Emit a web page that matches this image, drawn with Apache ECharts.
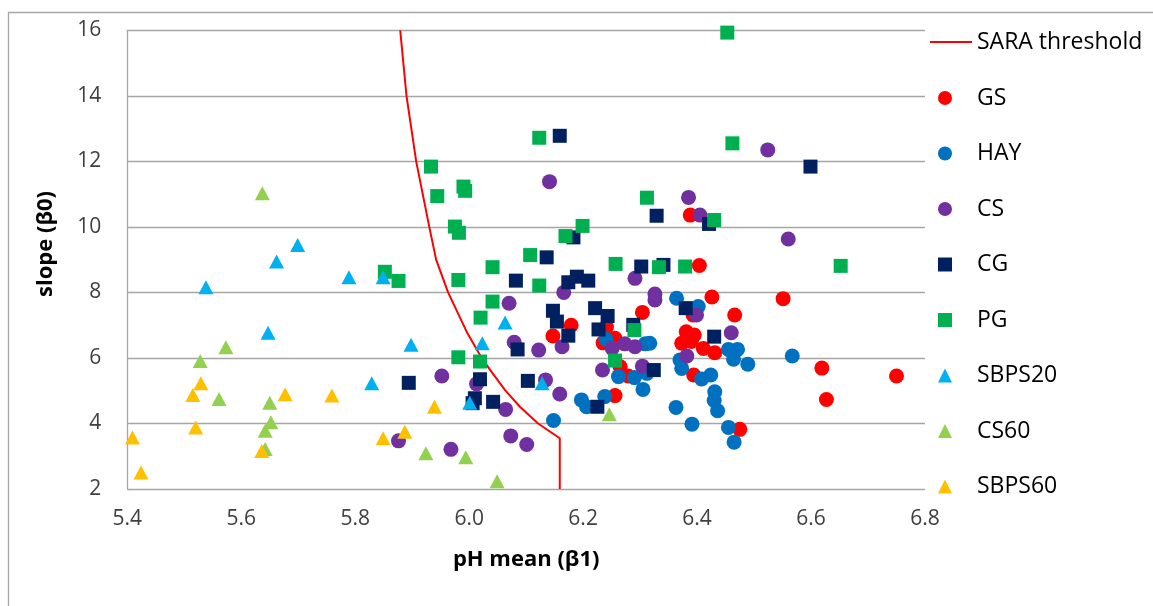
<!DOCTYPE html>
<html>
<head>
<meta charset="utf-8">
<script src="https://cdn.jsdelivr.net/npm/echarts@6/dist/echarts.min.js"></script>
<style>html,body{margin:0;padding:0;background:#fff}#c{width:1153px;height:606px}</style>
</head>
<body>
<div id="c"></div>
<script>
// ---- data ----
var saraX = [5.879, 5.890, 5.907, 5.930, 5.942, 5.963, 5.997, 6.022, 6.037, 6.063, 6.089, 6.121, 6.159, 6.159];
var saraY = [16, 14, 12, 10, 9, 8, 6.75, 6, 5.63, 5.02, 4.51, 4, 3.55, 2];

var GS = [[6.388,10.36],[6.404,8.82],[6.426,7.86],[6.551,7.81],[6.466,7.31],[6.619,5.69],[6.750,5.45],[6.627,4.73],[6.475,3.82],[6.381,6.80],[6.395,6.70],[6.373,6.45],[6.390,6.50],[6.411,6.29],[6.431,6.16],[6.393,7.31],[6.394,5.48],[6.304,7.39],[6.179,7.00],[6.147,6.67],[6.241,6.95],[6.256,6.60],[6.235,6.46],[6.265,5.73],[6.279,5.45],[6.256,4.85]];
var HAY = [[6.364,7.82],[6.402,7.57],[6.317,6.45],[6.370,5.94],[6.373,5.68],[6.455,6.26],[6.471,6.26],[6.464,5.96],[6.489,5.81],[6.567,6.06],[6.408,5.36],[6.424,5.48],[6.431,4.97],[6.430,4.70],[6.436,4.39],[6.363,4.49],[6.391,3.98],[6.455,3.88],[6.465,3.43],[6.240,6.57],[6.309,6.43],[6.262,5.43],[6.290,5.40],[6.305,5.04],[6.197,4.72],[6.206,4.51],[6.238,4.82],[6.148,4.09],[6.312,5.53]];
var CS = [[6.141,11.38],[6.524,12.35],[6.385,10.90],[6.405,10.36],[6.560,9.63],[6.326,7.95],[6.326,7.77],[6.399,7.31],[6.460,6.77],[6.382,6.06],[6.291,8.43],[6.166,8.00],[6.070,7.67],[6.079,6.48],[6.122,6.24],[6.163,6.34],[6.251,6.29],[6.273,6.43],[6.291,6.34],[6.234,5.63],[6.304,5.75],[5.952,5.45],[6.013,5.21],[6.134,5.33],[6.159,4.90],[6.064,4.43],[5.876,3.47],[6.073,3.62],[6.101,3.36],[5.968,3.21]];
var CG = [[6.159,12.78],[6.599,11.84],[6.329,10.34],[6.421,10.09],[6.183,9.68],[6.136,9.07],[6.302,8.79],[6.341,8.84],[6.082,8.36],[6.174,8.31],[6.189,8.48],[6.209,8.36],[6.147,7.44],[6.154,7.11],[6.174,6.68],[6.221,7.52],[6.243,7.28],[6.227,6.87],[6.288,7.01],[6.085,6.26],[6.019,5.35],[6.010,4.77],[6.006,4.62],[6.042,4.66],[6.103,5.30],[5.894,5.24],[6.225,4.51],[6.324,5.63],[6.380,7.52],[6.430,6.65]];
var PG = [[6.453,15.93],[6.462,12.55],[6.123,12.72],[5.933,11.84],[5.990,11.23],[5.993,11.10],[5.944,10.94],[6.312,10.89],[6.430,10.21],[5.975,10.01],[5.982,9.82],[6.169,9.72],[6.199,10.03],[6.107,9.14],[6.652,8.81],[6.333,8.77],[6.379,8.79],[6.257,8.87],[6.041,8.77],[5.852,8.63],[5.876,8.35],[5.981,8.38],[6.123,8.21],[6.041,7.72],[6.020,7.23],[6.290,6.85],[5.981,6.02],[6.019,5.89],[6.256,5.92]];
var SBPS20 = [[5.699,9.45],[5.662,8.94],[5.538,8.16],[5.789,8.46],[5.849,8.46],[5.647,6.77],[5.829,5.23],[5.898,6.40],[6.023,6.45],[6.063,7.08],[6.128,5.23],[6.001,4.63]];
var CS60 = [[5.637,11.03],[5.573,6.33],[5.528,5.91],[5.561,4.75],[5.650,4.63],[5.652,4.04],[5.642,3.78],[5.642,3.22],[5.924,3.09],[5.994,2.97],[6.049,2.24],[6.246,4.28]];
var SBPS60 = [[5.529,5.23],[5.515,4.87],[5.677,4.89],[5.759,4.85],[5.520,3.88],[5.409,3.57],[5.424,2.50],[5.636,3.16],[5.849,3.55],[5.887,3.75],[5.939,4.51]];

var xTicks = ['5.4','5.6','5.8','6.0','6.2','6.4','6.6','6.8'];
var yTicks = ['2','4','6','8','10','12','14','16'];

// ---- chart ----
var FONT = 'Open Sans';
var saraData = saraX.map(function (x, i) { return [x, saraY[i]]; });

function scatter(name, data, symbol, color, size) {
  return {
    name: name, type: 'scatter', data: data, symbol: symbol, symbolSize: size,
    itemStyle: { color: color, opacity: 1 }, emphasis: { disabled: true }, animation: false
  };
}

var chart = echarts.init(document.getElementById('c'), null, { renderer: 'canvas' });
chart.setOption({
  animation: false,
  backgroundColor: '#ffffff',
  textStyle: { fontFamily: FONT },
  grid: { left: 127.3, right: 228, top: 30.3, bottom: 117, containLabel: false },
  xAxis: {
    type: 'value', min: 5.4, max: 6.8, interval: 0.2,
    name: 'pH mean (β1)', nameLocation: 'middle', nameGap: 60,
    nameTextStyle: { fontFamily: FONT, fontSize: 22, fontWeight: 'bold', color: '#000' },
    axisLine: { show: false }, axisTick: { show: false }, splitLine: { show: false },
    axisLabel: {
      margin: 20, fontFamily: FONT, fontSize: 21, color: '#404040',
      formatter: function (v) { var s = v.toFixed(1); return xTicks.indexOf(s) >= 0 ? s : ''; }
    }
  },
  yAxis: {
    type: 'value', min: 2, max: 16, interval: 2,
    axisLine: { show: true, lineStyle: { color: '#A6A6A6', width: 1.3 } },
    axisTick: { show: false },
    splitLine: { show: true, lineStyle: { color: '#A6A6A6', width: 1.3 } },
    axisLabel: {
      margin: 26, fontFamily: FONT, fontSize: 21, color: '#404040',
      formatter: function (v) { var s = String(Math.round(v)); return yTicks.indexOf(s) >= 0 ? s : ''; }
    }
  },
  legend: [
    {
      data: [{ name: 'SARA threshold', icon: 'rect' }], orient: 'vertical', left: 930, top: 30.5, padding: 0,
      itemWidth: 42, itemHeight: 2,
      textStyle: { fontFamily: FONT, fontSize: 23, color: '#000', lineHeight: 23 },
      selectedMode: false
    },
    {
      data: ['GS','HAY','CS','CG','PG','SBPS20','CS60','SBPS60'], orient: 'vertical', left: 938, top: 86.5, padding: 0,
      itemWidth: 14, itemHeight: 14, itemGap: 32.5,
      textStyle: { fontFamily: FONT, fontSize: 23, color: '#000', lineHeight: 23, padding: [0,0,0,20] },
      selectedMode: false
    }
  ],
  graphic: [
    { type: 'rect', silent: true, shape: { x: 8.5, y: 12.5, width: 1400, height: 800 },
      style: { fill: 'none', stroke: '#A6A6A6', lineWidth: 1.3 } },
    { type: 'text', silent: true, x: 46, y: 244, rotation: Math.PI / 2,
      style: { text: 'slope (β0)', font: 'bold 22px "Open Sans"', fill: '#000', align: 'center', verticalAlign: 'middle' } }
  ],
  series: [
    { name: 'SARA threshold', type: 'line', data: saraData, showSymbol: false, symbol: 'none',
      lineStyle: { color: '#FF0000', width: 2 }, itemStyle: { color: '#FF0000' }, emphasis: { disabled: true }, animation: false, z: 1 },
    scatter('GS', GS, 'circle', '#FF0000', 15),
    scatter('HAY', HAY, 'circle', '#0070C0', 15),
    scatter('CS', CS, 'circle', '#7030A0', 15),
    scatter('CG', CG, 'rect', '#002060', 14),
    scatter('PG', PG, 'rect', '#00B050', 14),
    scatter('SBPS20', SBPS20, 'triangle', '#00B0F0', [15, 14]),
    scatter('CS60', CS60, 'triangle', '#92D050', [15, 14]),
    scatter('SBPS60', SBPS60, 'triangle', '#FFC000', [15, 14])
  ]
});
</script>
</body>
</html>
